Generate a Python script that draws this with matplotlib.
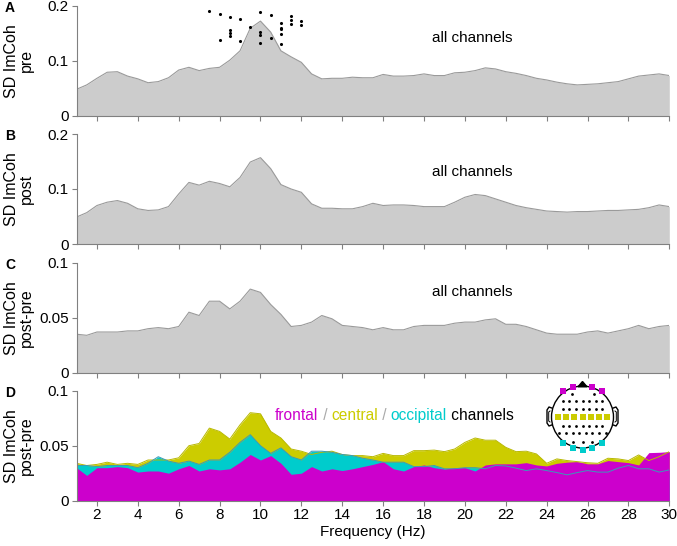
import numpy as np
import matplotlib.pyplot as plt
from matplotlib.patches import Circle

plt.rcParams['font.family'] = ['Liberation Sans', 'DejaVu Sans']

# frequency bins (Hz), 0.5 Hz steps
freq = np.arange(1.0, 30.01, 0.5)

sd_pre = [0.048, 0.056, 0.068, 0.079, 0.080, 0.072, 0.067, 0.060, 0.062, 0.069,
          0.083, 0.088, 0.082, 0.086, 0.088, 0.101, 0.118, 0.159, 0.172, 0.152,
          0.118, 0.107, 0.097, 0.076, 0.067, 0.068,
          0.068, 0.070, 0.069, 0.069, 0.075, 0.072, 0.072, 0.073, 0.076, 0.073,
          0.073, 0.078, 0.079, 0.082, 0.087, 0.085, 0.080, 0.077, 0.073, 0.068,
          0.065, 0.061, 0.058, 0.056, 0.057, 0.058, 0.060, 0.062, 0.067, 0.072,
          0.074, 0.076, 0.073]

sd_post = [0.049, 0.057, 0.070, 0.076, 0.079, 0.074, 0.064, 0.061, 0.062, 0.068,
           0.091, 0.112, 0.107, 0.114, 0.110, 0.104, 0.121, 0.149, 0.157, 0.137,
           0.108, 0.100, 0.094, 0.073, 0.065, 0.065,
           0.064, 0.064, 0.068, 0.074, 0.070, 0.071, 0.071, 0.070, 0.068, 0.068,
           0.068, 0.076, 0.085, 0.090, 0.088, 0.082, 0.076, 0.070, 0.066, 0.063,
           0.060, 0.059, 0.058, 0.059, 0.059, 0.060, 0.061, 0.061, 0.062, 0.063,
           0.066, 0.071, 0.068]

sd_diff = [0.035, 0.034, 0.037, 0.037, 0.037, 0.038, 0.038, 0.040, 0.041, 0.040,
           0.042, 0.055, 0.052, 0.065, 0.065, 0.058, 0.065, 0.076, 0.073, 0.062,
           0.053, 0.042, 0.043, 0.046, 0.052, 0.049,
           0.043, 0.042, 0.041, 0.039, 0.041, 0.039, 0.039, 0.042, 0.043, 0.043,
           0.043, 0.045, 0.046, 0.046, 0.048, 0.049, 0.044, 0.044, 0.042, 0.039,
           0.036, 0.035, 0.035, 0.035, 0.037, 0.038, 0.036, 0.038, 0.040, 0.043,
           0.040, 0.042, 0.043]

sd_central = [0.034, 0.032, 0.033, 0.035, 0.033, 0.034, 0.033, 0.037, 0.037, 0.037,
              0.039, 0.050, 0.052, 0.066, 0.063, 0.056, 0.069, 0.080, 0.079, 0.063,
              0.057, 0.047, 0.045, 0.042, 0.044, 0.045,
              0.042, 0.041, 0.041, 0.040, 0.043, 0.041, 0.041, 0.0455, 0.0455, 0.046,
              0.0446, 0.047, 0.053, 0.057, 0.055, 0.055, 0.0485, 0.0446, 0.045, 0.0425,
              0.034, 0.038, 0.0365, 0.0355, 0.0345, 0.034, 0.0386, 0.038, 0.0365, 0.0416,
              0.0365, 0.040, 0.0446]

sd_occipital = [0.032, 0.032, 0.031, 0.032, 0.032, 0.032, 0.030, 0.034, 0.040, 0.036,
                0.034, 0.036, 0.033, 0.037, 0.037, 0.044, 0.053, 0.060, 0.050, 0.043,
                0.048, 0.040, 0.037, 0.045, 0.045, 0.044,
                0.042, 0.041, 0.0386, 0.037, 0.035, 0.035, 0.035, 0.031, 0.031, 0.032,
                0.029, 0.029, 0.030, 0.030, 0.029, 0.032, 0.0316, 0.0296, 0.0274, 0.029,
                0.0274, 0.0256, 0.0235, 0.0256, 0.0274, 0.026, 0.026, 0.0296, 0.032, 0.029,
                0.029, 0.026, 0.028]

sd_frontal = [0.030, 0.023, 0.030, 0.030, 0.031, 0.030, 0.026, 0.027, 0.027, 0.025,
              0.029, 0.032, 0.027, 0.029, 0.028, 0.029, 0.035, 0.042, 0.037, 0.041,
              0.034, 0.024, 0.025, 0.031, 0.027, 0.029,
              0.0274, 0.029, 0.031, 0.033, 0.0355, 0.029, 0.027, 0.031, 0.0325, 0.030,
              0.0287, 0.030, 0.030, 0.027, 0.0325, 0.0335, 0.0335, 0.0335, 0.0346, 0.0325,
              0.0316, 0.034, 0.035, 0.0355, 0.0335, 0.0335, 0.0365, 0.0355, 0.0346, 0.0325,
              0.0437, 0.044, 0.0446]

# stray electrode dots drawn over panel A (freq, value)
dots_f = [7.5, 8.0, 8.0, 8.5, 8.5, 8.5, 8.5, 9.0, 9.0, 9.5, 10.0, 10.0, 10.0, 10.0,
          10.5, 10.5, 11.0, 11.0, 11.0, 11.0, 11.0, 11.5, 11.5, 11.5, 12.0, 12.0]
dots_v = [0.190, 0.185, 0.138, 0.179, 0.155, 0.150, 0.144, 0.176, 0.135, 0.162,
          0.188, 0.152, 0.147, 0.133, 0.183, 0.141, 0.169, 0.159, 0.157, 0.148,
          0.131, 0.181, 0.174, 0.167, 0.172, 0.165]

ylabels = ['SD ImCoh\npre', 'SD ImCoh\npost', 'SD ImCoh\npost-pre', 'SD ImCoh\npost-pre']
letters = ['A', 'B', 'C', 'D']
xticks = np.arange(2, 31, 2)

W, H = 677, 546
fig = plt.figure(figsize=(W / 100, H / 100), dpi=100)

tops = [5.7, 134.0, 262.7, 390.7]
ph = 110.0
axes = []
for i, top in enumerate(tops):
    ax = fig.add_axes([76.5 / W, 1 - (top + ph) / H, 592.8 / W, ph / H])
    axes.append(ax)
    for s in ['top', 'right']:
        ax.spines[s].set_visible(False)
    for s in ['left', 'bottom']:
        ax.spines[s].set_color('#808080')
        ax.spines[s].set_linewidth(0.8)
    ax.tick_params(direction='out', length=3.5, width=0.8, color='#808080',
                   labelsize=11, pad=2)
    ax.set_xlim(1, 30)
    ax.set_xticks(xticks)
    if i < 3:
        ax.set_xticklabels([])
    ax.set_ylabel(ylabels[i], fontsize=11.5, linespacing=1.0)
    ax.yaxis.set_label_coords(-0.072, 0.5)
    fig.text(5 / W, 1 - (top + 2) / H, letters[i], fontsize=10, fontweight='bold',
             va='center', ha='left')

gray_fill = '#cccccc'
gray_line = '#9a9a9a'
for ax, vals in zip(axes[:3], [sd_pre, sd_post, sd_diff]):
    ax.fill_between(freq, vals, 0, color=gray_fill, lw=0)
    ax.plot(freq, vals, color=gray_line, lw=0.8)

axes[0].set_ylim(0, 0.2)
axes[0].set_yticks([0, 0.1, 0.2])
axes[0].set_yticklabels(['0', '0.1', '0.2'])
axes[1].set_ylim(0, 0.2)
axes[1].set_yticks([0, 0.1, 0.2])
axes[1].set_yticklabels(['0', '0.1', '0.2'])
for ax in axes[2:]:
    ax.set_ylim(0, 0.1)
    ax.set_yticks([0, 0.05, 0.1])
    ax.set_yticklabels(['0', '0.05', '0.1'])

axes[0].scatter(dots_f, dots_v, s=5, color='black', lw=0, zorder=5, clip_on=False)

axes[0].text(18.4, 0.141, 'all channels', fontsize=11, va='center', ha='left')
axes[1].text(18.4, 0.131, 'all channels', fontsize=11, va='center', ha='left')
axes[2].text(18.4, 0.0736, 'all channels', fontsize=11, va='center', ha='left')

# panel D: overlapping region fills
magenta = '#cc00cc'
yellow = '#cccc00'
cyan = '#00cccc'
axd = axes[3]
axd.fill_between(freq, sd_central, 0, color=yellow, lw=0)
axd.fill_between(freq, sd_occipital, 0, color=cyan, lw=0)
axd.fill_between(freq, sd_frontal, 0, color=magenta, lw=0)
axd.plot(freq, sd_central, color='#b8b800', lw=0.7)
axd.plot(freq, sd_occipital, color='#3a9ab8', lw=0.7)
axd.set_xlabel('Frequency (Hz)', fontsize=11, labelpad=2)

t = axd.text(10.72, 0.0778, 'frontal', color=magenta, fontsize=11.2, va='center', ha='left')
pieces = [(' / ', '#aaaaaa'), ('central', yellow), (' / ', '#aaaaaa'),
          ('occipital', cyan), (' channels', 'black')]
for txt, col in pieces:
    t = axd.annotate(txt, xy=(1, 0), xycoords=t, va='bottom', ha='left',
                     color=col, fontsize=11.2)

# head inset with electrode layout
hx, hy, hr = 582.5, 417.0, 42.0
axh = fig.add_axes([(hx - hr) / W, 1 - (hy + hr) / H, 2 * hr / W, 2 * hr / H])
axh.set_xlim(-hr, hr)
axh.set_ylim(-hr, hr)
axh.axis('off')
axh.add_patch(Circle((0, 0), 31, fill=False, ec='black', lw=1.0))
axh.fill([-4.5, 0, 4.5], [30.2, 35.5, 30.2], color='black', lw=1.0)
for sgn in [-1, 1]:
    axh.plot([sgn * 30.8, sgn * 33.5, sgn * 35.5, sgn * 35.5, sgn * 33.5, sgn * 30.8],
             [9, 10, 7, -6, -9, -8], color='black', lw=1.0)
    axh.plot([sgn * 32.5, sgn * 33.8, sgn * 33.8, sgn * 32.5],
             [6, 5, -4, -5], color='black', lw=0.7)

row7 = [-19.8, -13.2, -6.6, 0, 6.6, 13.2, 19.8]
black_x = [-11, 11] + row7 + row7 + row7 + \
          [-23.2, -16.5, -9.9, -3.3, 3.3, 9.9, 16.5, 23.2] + [-9.5, 0, 9.5]
black_y = [23, 23] + [16.3] * 7 + [8.3] * 7 + [-8.5] * 7 + [-16.3] * 8 + [-24.5] * 3
axh.scatter(black_x, black_y, s=4, color='black', lw=0)
axh.scatter([-24.2, -16.2, -8.1, 0, 8.1, 16.2, 24.2], [0] * 7, s=13, marker='s',
            color=yellow, lw=0)
axh.scatter([-19.7, -9.7, 9.7, 19.7], [26, 30.3, 30.3, 26], s=13, marker='s',
            color=magenta, lw=0)
axh.scatter([-19.3, -9.7, 0, 9.7, 19.3], [-25.7, -31.3, -33, -31.3, -25.7], s=13,
            marker='s', color=cyan, lw=0)

fig.savefig('out.png', dpi=100)
